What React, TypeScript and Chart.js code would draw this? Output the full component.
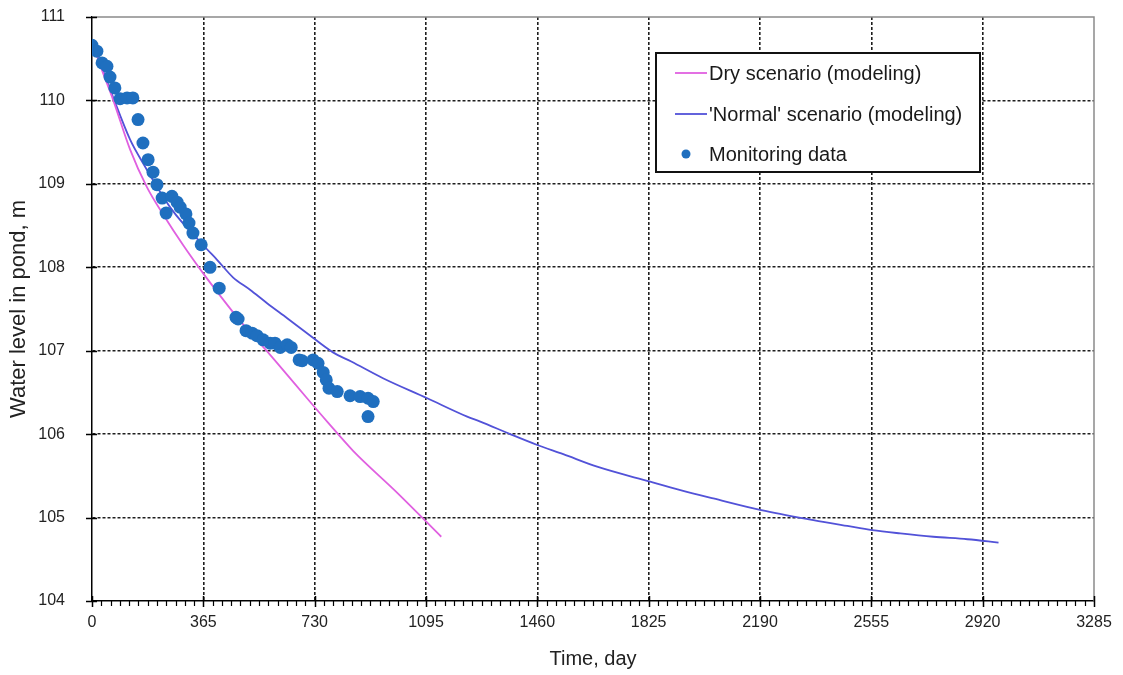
import { useEffect, useRef } from 'react';
import { Chart, registerables } from 'chart.js';

Chart.register(...registerables);

const xTickValues = [0, 365, 730, 1095, 1460, 1825, 2190, 2555, 2920, 3285];
const yTickValues = [104, 105, 106, 107, 108, 109, 110, 111];
const minorTicksPerMajor = 12;

const seriesLabels = ['Dry scenario (modeling)', "'Normal' scenario (modeling)", 'Monitoring data'];

const monitoringDays = [
  0, 16, 33, 49, 59, 75, 92, 115, 134, 151, 167, 184, 200, 213, 230, 243, 262, 279, 289, 308,
  318, 331, 358, 387, 417, 472, 479, 505, 525, 541, 561, 584, 600, 617, 640, 653, 679, 689, 725,
  741, 758, 768, 777, 804, 846, 879, 905, 922, 905,
];
const monitoringLevels = [
  110.66, 110.59, 110.45, 110.41, 110.28, 110.15, 110.02, 110.03, 110.03, 109.77, 109.49, 109.29,
  109.14, 108.99, 108.83, 108.65, 108.85, 108.78, 108.72, 108.64, 108.53, 108.41, 108.27, 108.0,
  107.75, 107.4, 107.38, 107.24, 107.21, 107.18, 107.13, 107.09, 107.09, 107.04, 107.07, 107.04,
  106.89, 106.88, 106.89, 106.85, 106.74, 106.65, 106.55, 106.51, 106.46, 106.45, 106.43, 106.39,
  106.21,
];

const dryDays = [10, 33, 69, 125, 180, 239, 298, 364, 420, 476, 528, 584, 640, 705, 771, 856, 1000, 1145];
const dryLevels = [
  110.6, 110.36, 110.01, 109.41, 108.96, 108.6, 108.27, 107.93, 107.66, 107.4, 107.18, 106.95,
  106.71, 106.43, 106.15, 105.8, 105.3, 104.77,
];

const normalDays = [
  10, 36, 69, 125, 167, 260, 371, 410, 462, 518, 574, 640, 705, 790, 850, 954, 1099, 1230, 1273,
  1371, 1460, 1545, 1656, 1830, 1929, 2037, 2194, 2365, 2476, 2558, 2650, 2758, 2870, 2972,
];
const normalLevels = [
  110.63, 110.36, 110.04, 109.53, 109.25, 108.7, 108.24, 108.09, 107.88, 107.73, 107.57, 107.39,
  107.21, 106.98, 106.87, 106.67, 106.43, 106.21, 106.15, 106.0, 105.87, 105.76, 105.61, 105.43,
  105.33, 105.23, 105.09, 104.97, 104.9, 104.85, 104.81, 104.77, 104.74, 104.7,
];

const dryColor = '#e060e0';
const normalColor = '#5252d8';
const dotColor = '#1f6fbf';
const FONT = "'Liberation Sans', Arial, sans-serif";

const decorPlugin = {
  id: 'decor',
  afterDraw(chart: any) {
    const { ctx, chartArea: a, scales } = chart;
    const x = scales.x;
    const y = scales.y;
    ctx.save();
    // top/right frame
    ctx.strokeStyle = '#8a8a8a';
    ctx.lineWidth = 1.5;
    ctx.beginPath();
    ctx.moveTo(a.left, a.top);
    ctx.lineTo(a.right, a.top);
    ctx.lineTo(a.right, a.bottom);
    ctx.stroke();
    // major ticks (crossing)
    ctx.strokeStyle = '#000';
    ctx.lineWidth = 1.5;
    ctx.beginPath();
    for (const v of yTickValues) {
      const py = Math.round(y.getPixelForValue(v)) + 0.5;
      ctx.moveTo(a.left - 6, py);
      ctx.lineTo(a.left + 5, py);
    }
    for (const v of xTickValues) {
      const px = Math.round(x.getPixelForValue(v)) + 0.5;
      ctx.moveTo(px, a.bottom - 5);
      ctx.lineTo(px, a.bottom + 6);
    }
    ctx.stroke();
    // minor ticks
    ctx.lineWidth = 1.2;
    ctx.beginPath();
    for (let k = 0; k < xTickValues.length - 1; k++) {
      const v0 = xTickValues[k];
      const step = (xTickValues[k + 1] - v0) / minorTicksPerMajor;
      for (let j = 1; j < minorTicksPerMajor; j++) {
        const px = Math.round(x.getPixelForValue(v0 + j * step)) + 0.5;
        ctx.moveTo(px, a.bottom);
        ctx.lineTo(px, a.bottom + 5);
      }
    }
    ctx.stroke();

    // legend
    const bx = 656, by = 53, bw = 324, bh = 119;
    ctx.fillStyle = '#fff';
    ctx.fillRect(bx, by, bw, bh);
    ctx.strokeStyle = '#111';
    ctx.lineWidth = 2;
    ctx.strokeRect(bx, by, bw, bh);
    const rows = [73, 114, 154];
    const ds = chart.data.datasets;
    const order = [1, 2, 0];
    ctx.font = `20px ${FONT}`;
    ctx.textBaseline = 'middle';
    ctx.textAlign = 'left';
    order.forEach((di, r) => {
      const d = ds[di];
      const yy = rows[r];
      if (d.showLine === false) {
        ctx.fillStyle = d.backgroundColor;
        ctx.beginPath();
        ctx.arc(686, yy, 4.5, 0, Math.PI * 2);
        ctx.fill();
      } else {
        ctx.strokeStyle = d.borderColor;
        ctx.lineWidth = 1.8;
        ctx.beginPath();
        ctx.moveTo(675, yy);
        ctx.lineTo(707, yy);
        ctx.stroke();
      }
      ctx.fillStyle = '#1a1a1a';
      ctx.fillText(d.label, 709, yy + 1);
    });
    ctx.restore();
  },
};

export default function App() {
  const canvasRef = useRef<HTMLCanvasElement | null>(null);

  useEffect(() => {
    document.body.style.margin = '0';
    const canvas = canvasRef.current;
    if (!canvas) return;
    const toPts = (xs: number[], ys: number[]) => xs.map((v, i) => ({ x: v, y: ys[i] }));
    const gridColor = (ctx: any) => {
      const n = ctx.chart.scales[ctx.scale.id].ticks.length;
      return ctx.index === 0 || ctx.index === n - 1 ? 'rgba(0,0,0,0)' : '#1e1e1e';
    };
    const chart = new Chart(canvas, {
      type: 'scatter',
      data: {
        datasets: [
          {
            label: seriesLabels[2],
            data: toPts(monitoringDays, monitoringLevels),
            showLine: false,
            backgroundColor: dotColor,
            borderColor: dotColor,
            pointRadius: 6.5,
            pointBorderWidth: 0,
            order: 0,
          },
          {
            label: seriesLabels[0],
            data: toPts(dryDays, dryLevels),
            showLine: true,
            borderColor: dryColor,
            backgroundColor: dryColor,
            borderWidth: 1.8,
            pointRadius: 0,
            cubicInterpolationMode: 'monotone',
            order: 1,
          },
          {
            label: seriesLabels[1],
            data: toPts(normalDays, normalLevels),
            showLine: true,
            borderColor: normalColor,
            backgroundColor: normalColor,
            borderWidth: 1.8,
            pointRadius: 0,
            cubicInterpolationMode: 'monotone',
            order: 1,
          },
        ],
      } as any,
      options: {
        animation: false,
        responsive: false,
        maintainAspectRatio: false,
        layout: { padding: { top: 17, right: 29, bottom: 0, left: 0 } },
        plugins: { legend: { display: false }, tooltip: { enabled: false } },
        scales: {
          x: {
            type: 'linear',
            min: 0,
            max: 3285,
            afterBuildTicks: (s: any) => {
              s.ticks = xTickValues.map((v) => ({ value: v }));
            },
            afterFit: (s: any) => {
              s.height = 74;
              s.paddingLeft = 0;
              s.paddingRight = 0;
            },
            ticks: {
              padding: 12,
              color: '#222',
              font: { family: FONT, size: 16 },
              maxRotation: 0,
              autoSkip: false,
              callback: (v: any) => String(v),
            },
            grid: { color: gridColor, lineWidth: 1.6, drawTicks: false },
            border: { display: true, color: '#000', width: 1.5, dash: [3, 2] },
            title: {
              display: true,
              text: 'Time, day',
              color: '#222',
              font: { family: FONT, size: 20 },
              padding: { top: 0, bottom: 4 },
            },
          },
          y: {
            type: 'linear',
            min: 104,
            max: 111,
            afterBuildTicks: (s: any) => {
              s.ticks = yTickValues.map((v) => ({ value: v }));
            },
            afterFit: (s: any) => {
              s.width = 92;
              s.paddingTop = 0;
              s.paddingBottom = 0;
            },
            ticks: {
              padding: 27,
              color: '#222',
              font: { family: FONT, size: 16 },
              autoSkip: false,
              callback: (v: any) => String(v),
            },
            grid: { color: gridColor, lineWidth: 1.6, drawTicks: false },
            border: { display: true, color: '#000', width: 1.5, dash: [3, 2] },
            title: {
              display: true,
              text: 'Water level in pond, m',
              color: '#222',
              font: { family: FONT, size: 22 },
              padding: { top: 6, bottom: 0 },
            },
          },
        },
      } as any,
      plugins: [decorPlugin],
    });
    return () => chart.destroy();
  }, []);

  return (
    <div style={{ width: 1123, height: 675, background: '#fff' }}>
      <canvas ref={canvasRef} width={1123} height={675} style={{ display: 'block' }} />
    </div>
  );
}
